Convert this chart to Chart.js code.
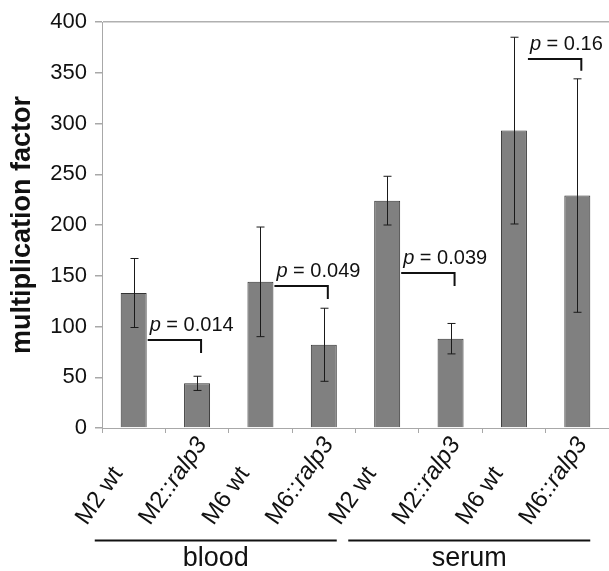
<!DOCTYPE html>
<html>
<head>
<meta charset="utf-8">
<script src="https://cdn.jsdelivr.net/npm/chart.js@4"></script>
<style>
  html, body { margin: 0; padding: 0; background: #fff; }
  #wrap { width: 609px; height: 571px; }
</style>
</head>
<body>
<div id="wrap"><canvas id="chart" width="609" height="571"></canvas></div>
<script>
// data
const strains = ["M2", "M2", "M6", "M6", "M2", "M2", "M6", "M6"];
const mutant = [false, true, false, true, false, true, false, true];
const means = [133, 44, 144, 82, 224, 88, 293, 229];
const errors = [34, 7, 54, 36, 24, 15, 92, 115];
const groups = ["blood", "serum"];
const groupRanges = [[0, 3], [4, 7]];
const pairs = [[0, 1], [2, 3], [4, 5], [6, 7]];
const pValues = ["0.014", "0.049", "0.039", "0.16"];
const bracketTop = [87, 140, 153, 364];
const bracketDrop = [74, 127, 140, 352];
const yTicks = [0, 50, 100, 150, 200, 250, 300, 350, 400];

const FONT = 'Arial, "Liberation Sans", sans-serif';

const labels = strains.map((s, i) => (mutant[i] ? s + "::ralp3" : s + " wt"));

const errorBars = {
  id: "errorBars",
  afterDatasetsDraw(chart) {
    const ctx = chart.ctx;
    const y = chart.scales.y;
    const meta = chart.getDatasetMeta(0);
    ctx.save();
    ctx.strokeStyle = "#1a1a1a";
    ctx.lineWidth = 1;
    meta.data.forEach((bar, i) => {
      const x = Math.round(bar.x) + 0.5;
      const top = y.getPixelForValue(means[i] + errors[i]);
      const bot = y.getPixelForValue(means[i] - errors[i]);
      ctx.beginPath();
      ctx.moveTo(x, top);
      ctx.lineTo(x, bot);
      ctx.moveTo(x - 4, top);
      ctx.lineTo(x + 4, top);
      ctx.moveTo(x - 4, bot);
      ctx.lineTo(x + 4, bot);
      ctx.stroke();
    });

    // p-value brackets
    ctx.lineWidth = 2;
    ctx.strokeStyle = "#111";
    ctx.fillStyle = "#111";
    pairs.forEach((p, k) => {
      const a = meta.data[p[0]];
      const b = meta.data[p[1]];
      const x1 = a.x + a.width / 2 + 1;
      const x2 = b.x + 4;
      const yTop = Math.round(y.getPixelForValue(bracketTop[k]));
      const yDrop = y.getPixelForValue(bracketDrop[k]);
      ctx.beginPath();
      ctx.moveTo(x1, yTop);
      ctx.lineTo(x2, yTop);
      ctx.lineTo(x2, yDrop);
      ctx.stroke();

      ctx.textBaseline = "alphabetic";
      ctx.textAlign = "left";
      ctx.font = "italic 20px " + FONT;
      const tx = x1 + 2;
      const ty = yTop - 9;
      ctx.fillText("p", tx, ty);
      const w = ctx.measureText("p").width;
      ctx.font = "20px " + FONT;
      ctx.fillText(" = " + pValues[k], tx + w, ty);
    });
    ctx.restore();
  },
  afterDraw(chart) {
    const ctx = chart.ctx;
    const x = chart.scales.x;
    ctx.save();
    ctx.fillStyle = "#111";
    ctx.textBaseline = "alphabetic";
    ctx.textAlign = "left";
    // rotated category labels, start-anchored at the bottom
    labels.forEach((lab, i) => {
      const px = x.getPixelForValue(i) - 47;
      ctx.save();
      ctx.translate(px, 526);
      ctx.rotate(-55 * Math.PI / 180);
      if (mutant[i]) {
        ctx.font = "24px " + FONT;
        const head = strains[i] + "::";
        ctx.fillText(head, 0, 0);
        const w = ctx.measureText(head).width;
        ctx.font = "italic 24px " + FONT;
        ctx.fillText("ralp3", w, 0);
      } else {
        ctx.font = "24px " + FONT;
        ctx.fillText(lab, 0, 0);
      }
      ctx.restore();
    });

    // group lines and names
    ctx.strokeStyle = "#111";
    ctx.lineWidth = 2;
    ctx.textAlign = "center";
    ctx.font = "27px " + FONT;
    groups.forEach((g, k) => {
      const r = groupRanges[k];
      const mid = (x.getPixelForValue(r[0]) + x.getPixelForValue(r[1])) / 2 - 13;
      ctx.beginPath();
      ctx.moveTo(mid - 121, 540.5);
      ctx.lineTo(mid + 121, 540.5);
      ctx.stroke();
      ctx.fillText(g, mid, 566);
    });
    ctx.restore();
  }
};

const ctx = document.getElementById("chart").getContext("2d");
new Chart(ctx, {
  type: "bar",
  data: {
    labels: labels,
    datasets: [
      {
        data: means,
        backgroundColor: "#808080",
        borderColor: "#333",
        borderWidth: 1,
        barPercentage: 0.41,
        categoryPercentage: 1,
      },
    ],
  },
  options: {
    responsive: false,
    animation: false,
    layout: { padding: { top: 22, right: -5, bottom: 0, left: 0 } },
    plugins: {
      legend: { display: false },
      tooltip: { enabled: false },
    },
    scales: {
      x: {
        ticks: { display: false },
        grid: {
          offset: true,
          drawOnChartArea: false,
          color: "#a8a8a8",
          tickLength: 5,
        },
        border: { color: "#a8a8a8", width: 1 },
        afterFit: (scale) => {
          scale.height = 143;
        },
      },
      y: {
        min: 0,
        max: 400,
        afterBuildTicks: (scale) => {
          scale.ticks = yTicks.map((v) => ({ value: v }));
        },
        ticks: {
          color: "#111",
          padding: 8,
          font: { family: FONT, size: 22 },
        },
        grid: {
          color: (c) => (c.tick && c.tick.value === 400 ? "#b0b0b0" : "rgba(0,0,0,0)"),
          lineWidth: 1.5,
          tickColor: "#a8a8a8",
          tickLength: 7,
        },
        border: { color: "#a8a8a8", width: 1 },
        title: {
          display: true,
          text: "multiplication factor",
          color: "#111",
          font: { family: FONT, size: 27, weight: "bold" },
          padding: { top: 6, bottom: 0 },
        },
        afterFit: (scale) => {
          scale.width = 102;
        },
      },
    },
  },
  plugins: [errorBars],
});
</script>
</body>
</html>
